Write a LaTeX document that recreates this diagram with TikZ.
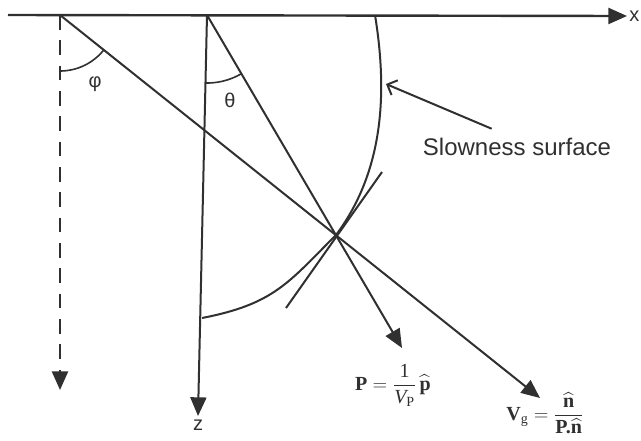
\documentclass[tikz,border=0pt]{standalone}
\usepackage{amsmath}
\usepackage{fontspec}
\setmainfont{Liberation Serif}
\setsansfont{Liberation Sans}
\usetikzlibrary{arrows.meta}
\definecolor{ink}{HTML}{303030}

\begin{document}
\begin{tikzpicture}[x=0.75pt, y=-0.75pt, line width=1.5pt, draw=ink, text=ink,
        >={Triangle[length=14pt, width=12pt]},
        lab/.style={font=\sffamily\fontsize{15}{17}\selectfont, text=ink},
        formula/.style={font=\fontsize{15}{18}\selectfont, text=ink},
        guide/.style={dashed, dash pattern=on 11pt off 8pt, line width=1.8pt}]
        \useasboundingbox (0,0) rectangle (641,440);

        % 坐标点
        \coordinate (xstart) at (8,15);
        \coordinate (O1) at (60,15);
        \coordinate (O2) at (207,15);
        \coordinate (X) at (336,235);
        \coordinate (dtip) at (60,390);
        \coordinate (ptip) at (402,348);
        \coordinate (vgtip) at (540,398);
        \coordinate (t1) at (286,308);
        \coordinate (t2) at (382,172);
        \coordinate (stip) at (386,84);

        % x 轴
        \node[lab, anchor=west, inner sep=1pt] (xlab) at (627,16) {x};
        \draw[->, line width=1.8pt] (xstart) -- (xlab.west);

        % z 轴
        \node[lab, anchor=north, inner sep=2pt] (zlab) at (198,416) {z};
        \draw[->] (O2) -- (zlab.north);

        % 竖直参考线（虚线）
        \draw[->, guide] (O1) -- (dtip);

        % 慢度面
        \draw (375,15) .. controls (388,95) and (383,172) .. (X)
              .. controls (288,283) and (274,304) .. (202,318);
        \draw (t1) -- (t2);

        % 射线 P 与 Vg
        \draw[->] (O2) -- (ptip);
        \draw[->] (O1) -- (vgtip);

        % 角 phi 与 theta
        \draw[line width=1.2pt] plot[domain=38.6:90, samples=30, variable=\t] ({60+56*cos(\t)}, {15+56*sin(\t)});
        \draw[line width=1.2pt] plot[domain=59.6:91.4, samples=30, variable=\t] ({207+68*cos(\t)}, {15+68*sin(\t)});
        \node[lab] (phi) at (95,84) {φ};
        \node[lab] (theta) at (230,100) {θ};

        % 标注
        \node[lab, font=\sffamily\fontsize{18}{20}\selectfont] (slow) at (517,147) {Slowness surface};
        \draw[-{Straight Barb[length=6pt, width=12pt]}] ([xshift=-19pt, yshift=3pt]slow.north) -- (stip);
        \node[formula] (pform) at (393,385) {$\textbf{P} = \dfrac{\text{1}}{\textit{V}_{\text{P}}}\,\widehat{\textbf{p}}$};
        \node[formula] (vgform) at (545,413) {$\textbf{V}_{\text{g}} = \dfrac{\widehat{\textbf{n}}}{\textbf{P.}\widehat{\textbf{n}}}$};
    \end{tikzpicture}
\end{document}
